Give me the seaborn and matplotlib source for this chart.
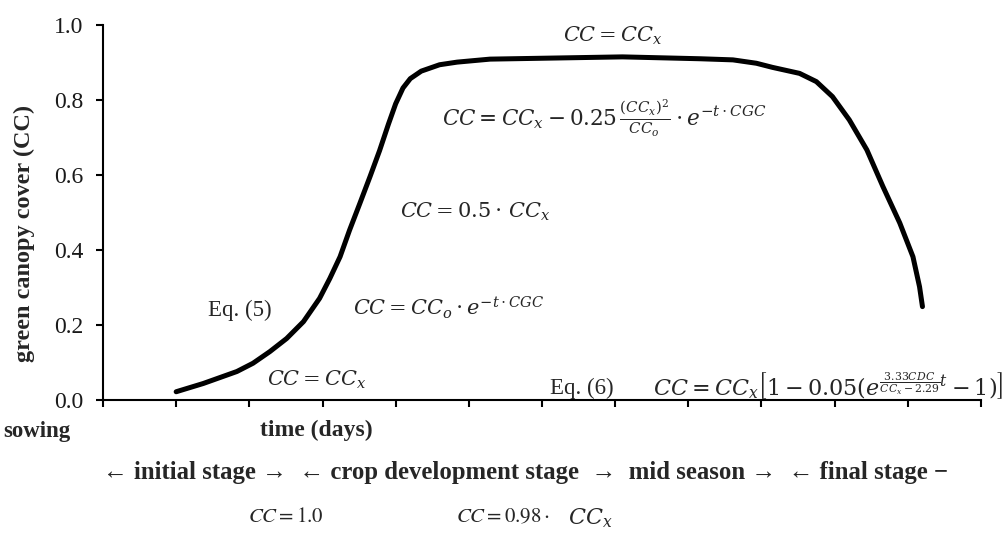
import matplotlib
matplotlib.use("Agg")
import matplotlib.pyplot as plt
import seaborn as sns
import numpy as np
import pandas as pd

# ---- data (x in axis tick units, y = green canopy cover) ----
t_days = [1.0, 1.37, 1.83, 2.05, 2.28, 2.51, 2.74, 2.96, 3.10, 3.24, 3.37, 3.51, 3.65, 3.78,
          3.90, 4.0, 4.1, 4.2, 4.35, 4.6, 4.84, 5.29, 6.2, 7.1, 8.16, 8.61, 8.93, 9.15, 9.52,
          9.75, 9.97, 10.2, 10.44, 10.66, 10.89, 11.07, 11.16, 11.2]
cc = [0.022, 0.044, 0.076, 0.098, 0.129, 0.164, 0.209, 0.271, 0.324, 0.382, 0.453, 0.524, 0.596, 0.665,
      0.735, 0.790, 0.832, 0.857, 0.877, 0.894, 0.901, 0.909, 0.912, 0.915, 0.910, 0.907, 0.898, 0.887, 0.871,
      0.849, 0.809, 0.747, 0.667, 0.569, 0.472, 0.382, 0.302, 0.249]
y_ticks = [0.0, 0.2, 0.4, 0.6, 0.8, 1.0]
x_ticks = list(range(13))

sns.set_theme(style="ticks")
plt.rcParams["font.family"] = ["Liberation Serif", "DejaVu Serif"]
plt.rcParams["mathtext.fontset"] = "stix"

W, H = 1007, 535
fig = plt.figure(figsize=(W / 100, H / 100), dpi=100)
ax = fig.add_axes([103 / W, 1 - 400 / H, (981 - 103) / W, 375 / H])

df = pd.DataFrame({"t": t_days, "cc": cc})
sns.lineplot(data=df, x="t", y="cc", ax=ax, color="black", linewidth=3.6,
             sort=False, estimator=None, solid_capstyle="round", solid_joinstyle="round")

ax.set_xlim(0, 12)
ax.set_ylim(0, 1)
ax.set_xticks(x_ticks)
ax.set_xticklabels([])
ax.set_yticks(y_ticks)
ax.set_yticklabels([f"{v:.1f}" for v in y_ticks], fontsize=17, color="#1a1a1a")
ax.set_xlabel("")
ax.set_ylabel("")
sns.despine(ax=ax)
for s in ["left", "bottom"]:
    ax.spines[s].set_color("black")
    ax.spines[s].set_linewidth(1.5)
ax.tick_params(axis="both", direction="out", length=5, width=1.5, color="black")
ax.tick_params(axis="y", pad=9)


def ftext(x, y, s, **kw):
    fig.text(x / W, 1 - y / H, s, **kw)


EQ = dict(ha="left", va="center", math_fontfamily="dejavuserif")

ftext(24, 233, "green canopy cover (CC)", rotation=90, ha="center", va="center",
      fontsize=17.5, fontweight="bold")
ftext(3, 432, "sowing", ha="left", va="center", fontsize=16.5, fontweight="bold")
ftext(260, 430, "time (days)", ha="left", va="center", fontsize=17, fontweight="bold")
ftext(103, 473, "\u2190 initial stage \u2192  \u2190 crop development stage  \u2192  mid season \u2192  \u2190 final stage \u2212",
      ha="left", va="center", fontsize=17.8, fontweight="bold")

ftext(563, 36, r"$CC = CC_x$", fontsize=15, **EQ)
ftext(442, 118, r"$CC = CC_x - 0.25\,\frac{(CC_x)^2}{CC_o}\cdot e^{-t\cdot CGC}$",
      fontsize=15.5, **EQ)
ftext(400, 212, r"$CC = 0.5\cdot\,CC_x$", fontsize=15, **EQ)
ftext(353, 308, r"$CC = CC_o\cdot e^{-t\cdot CGC}$", fontsize=15, **EQ)
ftext(208, 310, "Eq. (5)", ha="left", va="center", fontsize=16.5)
ftext(267, 380, r"$CC = CC_x$", fontsize=15, **EQ)
ftext(550, 388, "Eq. (6)", ha="left", va="center", fontsize=16.5)
ftext(653, 386, r"$CC = CC_x\left[1 - 0.05\left(e^{\frac{3.33CDC}{CC_x - 2.29}t} - 1\right)\right]$",
      fontsize=16, **EQ)
ftext(248, 518, r"$CC = 1.0$", ha="left", va="center", fontsize=15)
ftext(456, 518, r"$CC = 0.98\cdot$", ha="left", va="center", fontsize=15)
ftext(568, 518, r"$CC_x$", fontsize=16, **EQ)

fig.savefig("out.png", dpi=100)
